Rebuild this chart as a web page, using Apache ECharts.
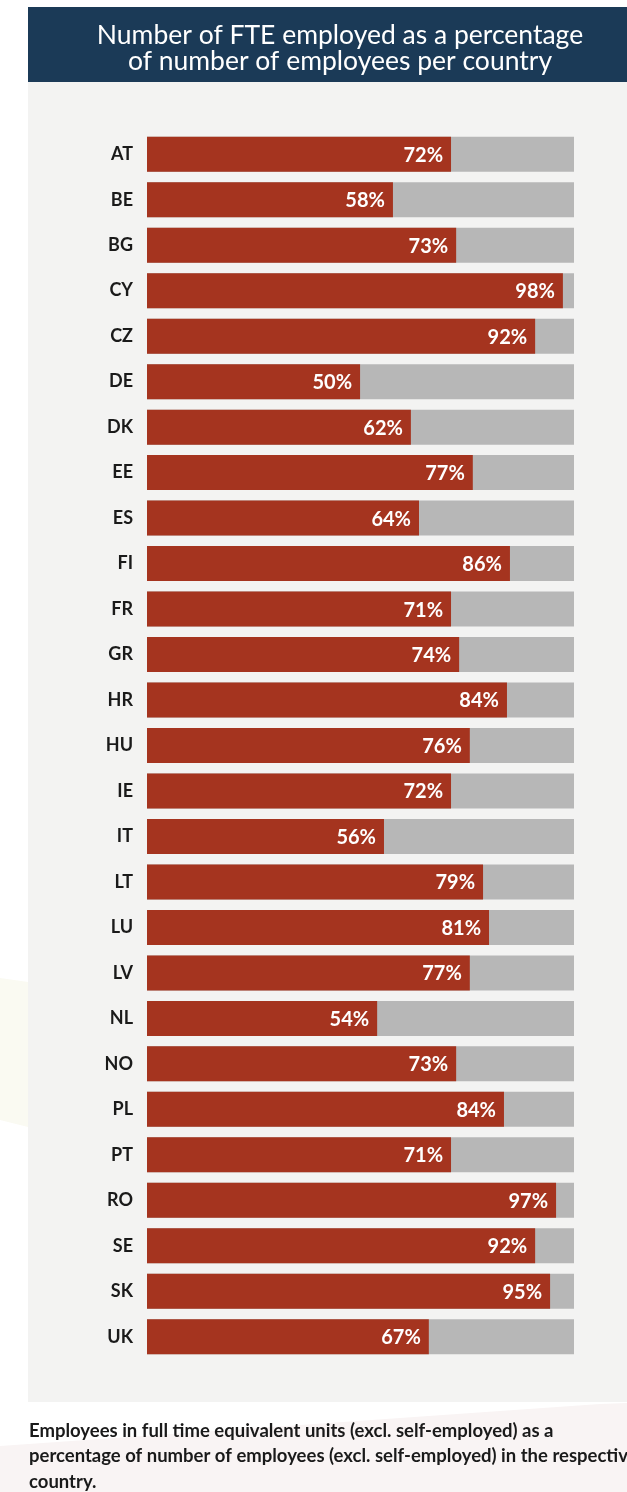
<!DOCTYPE html>
<html>
<head>
<meta charset="utf-8" />
<title>FTE share per country</title>
<script src="https://cdn.jsdelivr.net/npm/echarts@6/dist/echarts.min.js"></script>
<style>
  html, body { margin: 0; padding: 0; background: #ffffff; }
  #main { width: 627px; height: 1492px; }
</style>
</head>
<body>
<div id="main"></div>
<script>
  // country codes, top to bottom
  var countries = ['AT', 'BE', 'BG', 'CY', 'CZ', 'DE', 'DK', 'EE', 'ES', 'FI', 'FR', 'GR', 'HR', 'HU',
    'IE', 'IT', 'LT', 'LU', 'LV', 'NL', 'NO', 'PL', 'PT', 'RO', 'SE', 'SK', 'UK'];
  // bar lengths (% of full bar)
  var fteShare = [71.2, 57.6, 72.4, 97.4, 90.9, 49.9, 61.8, 76.3, 63.7, 85.0, 71.2, 73.1, 84.3, 75.6,
    71.2, 55.5, 78.7, 80.1, 75.6, 53.9, 72.4, 83.6, 71.2, 95.8, 90.9, 94.4, 66.0];
  // printed labels
  var shareLabels = ['72%', '58%', '73%', '98%', '92%', '50%', '62%', '77%', '64%', '86%', '71%', '74%', '84%', '76%',
    '72%', '56%', '79%', '81%', '77%', '54%', '73%', '84%', '71%', '97%', '92%', '95%', '67%'];

  var titleText = 'Number of FTE employed as a percentage\nof number of employees per country';
  var noteText = 'Employees in full time equivalent units (excl. self-employed) as a\n' +
    'percentage of number of employees (excl. self-employed) in the respective\ncountry.';

  var chart = echarts.init(document.getElementById('main'));
  var option = {
    animation: false,
    backgroundColor: '#ffffff',
    graphic: [
      { type: 'polygon', z: -10, shape: { points: [[0, 978], [28, 982], [28, 1127], [0, 1120]] }, style: { fill: '#fafaf2' } },
      { type: 'polygon', z: -10, shape: { points: [[0, 1446], [300, 1425], [600, 1404], [627, 1403], [627, 1492], [0, 1492]] }, style: { fill: '#f9f4f4' } },
      { type: 'rect', z: -5, shape: { x: 28, y: 82, width: 620, height: 1320 }, style: { fill: '#f3f3f2' } },
      { type: 'rect', z: -5, shape: { x: 28, y: 7, width: 620, height: 75 }, style: { fill: '#1b3a57' } },
      {
        type: 'text', x: 340, y: 22,
        style: {
          text: titleText, fill: '#ffffff', font: '26.5px Lato', lineHeight: 26,
          textAlign: 'center', textVerticalAlign: 'top'
        }
      },
      {
        type: 'text', x: 29, y: 1418,
        style: {
          text: noteText, fill: '#1a1a1a', font: 'bold 18.5px Lato', lineHeight: 25.5,
          textAlign: 'left', textVerticalAlign: 'top'
        }
      }
    ],
    grid: { left: 147, top: 131.5, width: 427, height: 1228 },
    xAxis: {
      type: 'value', min: 0, max: 100, show: false
    },
    yAxis: {
      type: 'category',
      data: countries,
      inverse: true,
      axisLine: { show: false },
      axisTick: { show: false },
      axisLabel: {
        margin: 14,
        color: '#1a1a1a',
        fontFamily: 'Lato',
        fontWeight: 'bold',
        fontSize: 18
      }
    },
    series: [{
      type: 'bar',
      data: fteShare,
      barWidth: 35,
      itemStyle: { color: '#a5341f' },
      showBackground: true,
      backgroundStyle: { color: '#b7b7b7' },
      label: {
        show: true,
        position: 'insideRight',
        distance: 8,
        offset: [0, 1],
        color: '#ffffff',
        fontFamily: 'Lato',
        fontWeight: 'bold',
        fontSize: 20,
        formatter: function (p) { return shareLabels[p.dataIndex]; }
      }
    }]
  };
  chart.setOption(option);
</script>
</body>
</html>
